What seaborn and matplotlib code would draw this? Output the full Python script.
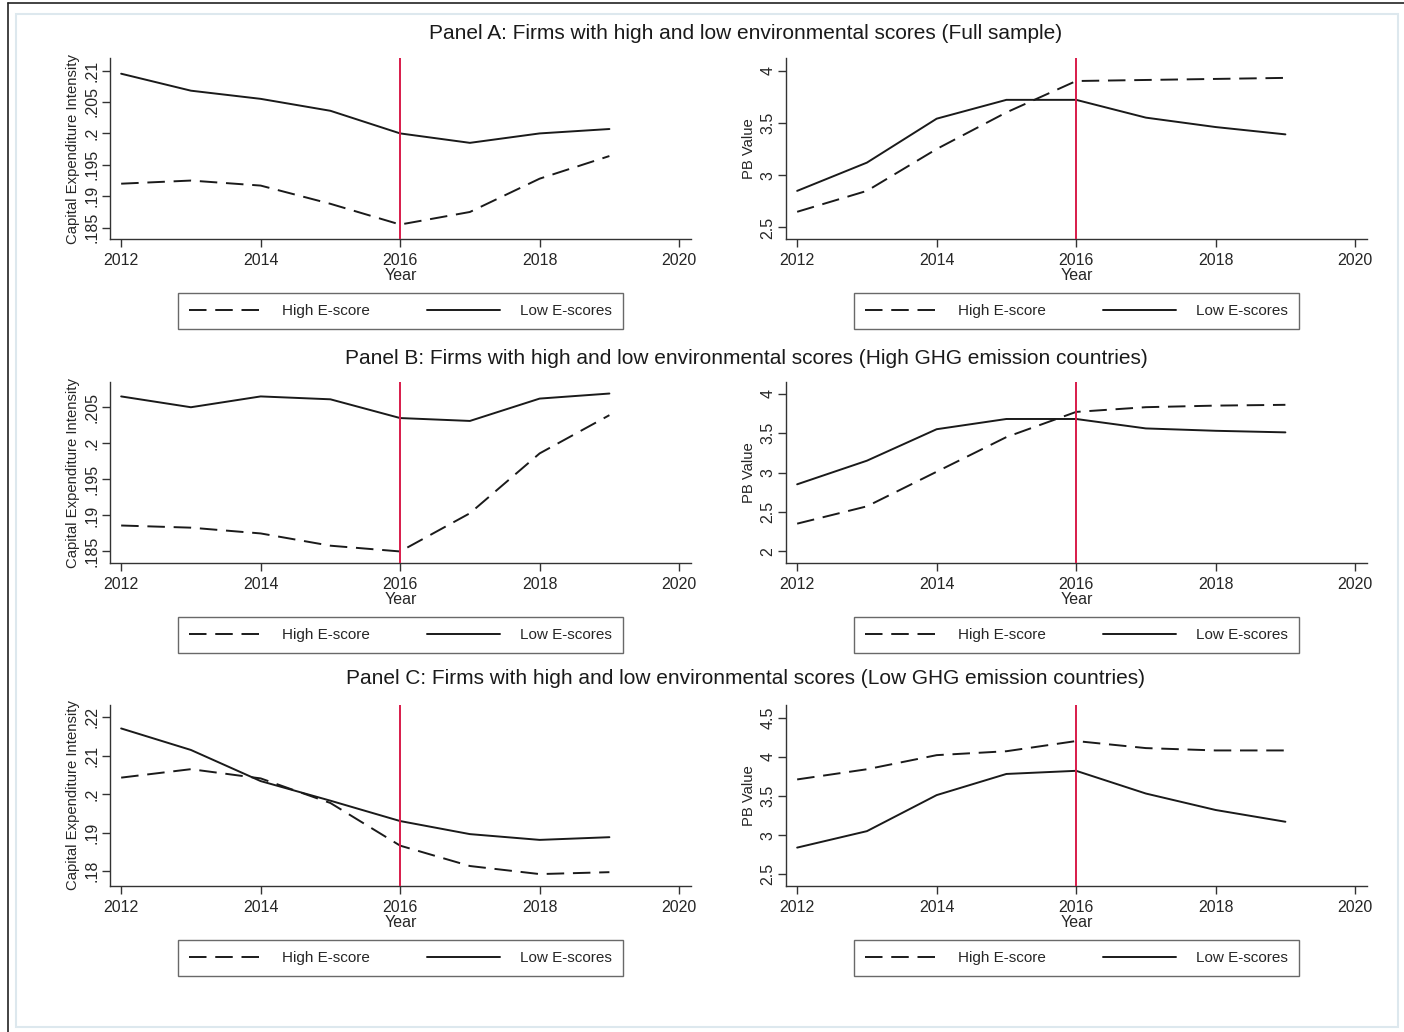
import numpy as np
import pandas as pd
import matplotlib
matplotlib.use('Agg')
import matplotlib.pyplot as plt
from matplotlib.ticker import FuncFormatter
from matplotlib.lines import Line2D
from matplotlib.patches import Rectangle
import seaborn as sns

# data
years = [2012, 2013, 2014, 2015, 2016, 2017, 2018, 2019]
groups = ['High E-score', 'Low E-scores']

capex_high_a = [0.1920, 0.1925, 0.1917, 0.1888, 0.1855, 0.1875, 0.1928, 0.1964]
capex_low_a = [0.2095, 0.2068, 0.2055, 0.2036, 0.2000, 0.1985, 0.2000, 0.2007]
pb_high_a = [2.65, 2.85, 3.25, 3.60, 3.90, 3.91, 3.92, 3.93]
pb_low_a = [2.85, 3.12, 3.54, 3.72, 3.72, 3.55, 3.46, 3.39]

capex_high_b = [0.1886, 0.1883, 0.1875, 0.1858, 0.1850, 0.1903, 0.1986, 0.2039]
capex_low_b = [0.2065, 0.2050, 0.2065, 0.2061, 0.2035, 0.2031, 0.2062, 0.2069]
pb_high_b = [2.35, 2.57, 3.01, 3.45, 3.77, 3.83, 3.85, 3.86]
pb_low_b = [2.85, 3.15, 3.55, 3.68, 3.68, 3.56, 3.53, 3.51]

capex_high_c = [0.2043, 0.2065, 0.2041, 0.1977, 0.1866, 0.1813, 0.1792, 0.1797]
capex_low_c = [0.2171, 0.2115, 0.2034, 0.1983, 0.1930, 0.1896, 0.1881, 0.1888]
pb_high_c = [3.71, 3.84, 4.02, 4.07, 4.20, 4.11, 4.08, 4.08]
pb_low_c = [2.84, 3.05, 3.51, 3.78, 3.82, 3.53, 3.32, 3.17]

titles = [
    'Panel A: Firms with high and low environmental scores (Full sample)',
    'Panel B: Firms with high and low environmental scores (High GHG emission countries)',
    'Panel C: Firms with high and low environmental scores (Low GHG emission countries)',
]

sns.set_style('white')
plt.rcParams['font.family'] = ['Liberation Sans', 'DejaVu Sans']


def make_df(high, low):
    return pd.DataFrame({
        'Year': years * 2,
        'value': high + low,
        'group': [groups[0]] * len(years) + [groups[1]] * len(years),
    })


def stata_fmt(v, pos):
    s = f'{round(v, 4):g}'
    if s.startswith('0.'):
        s = s[1:]
    return s


def draw_panel(ax, high, low, ylabel, ylim, yticks):
    df = make_df(high, low)
    sns.lineplot(data=df, x='Year', y='value', style='group', style_order=groups,
                 dashes={groups[0]: (9, 4.5), groups[1]: ''}, color='#1a1a1a',
                 linewidth=1.4, ax=ax)
    ax.axvline(2016, color='#d81b4a', lw=1.4, zorder=3)
    ax.set_xlim(2011.84, 2020.17)
    ax.set_ylim(*ylim)
    ax.set_xticks([2012, 2014, 2016, 2018, 2020])
    ax.set_yticks(yticks)
    ax.yaxis.set_major_formatter(FuncFormatter(stata_fmt))
    ax.set_xlabel('Year', fontsize=11.5, labelpad=0)
    ax.set_ylabel(ylabel, fontsize=10.7, labelpad=3)
    ax.tick_params(axis='both', direction='out', length=5.5, width=1, color='#333333',
                   labelsize=11.5, pad=4.5, left=True, bottom=True)
    ax.tick_params(axis='y', labelrotation=90, labelsize=11.5, pad=2)
    for lab in ax.get_yticklabels():
        lab.set_va('center')
    for side in ['top', 'right']:
        ax.spines[side].set_visible(False)
    for side in ['left', 'bottom']:
        ax.spines[side].set_color('#333333')
        ax.spines[side].set_linewidth(1)
    sns.move_legend(ax, 'upper center', bbox_to_anchor=(0.5, -0.257), ncol=2, title=None,
                    frameon=True, fancybox=False, fontsize=11, handlelength=4.8,
                    handletextpad=1.3, columnspacing=3.7, borderpad=0.7,
                    edgecolor='#444444')
    ax.get_legend().get_frame().set_linewidth(1.0)


fig = plt.figure(figsize=(14.04, 10.32), dpi=100)

left_x = 110 / 1404
right_x = 786 / 1404
w = 581 / 1404
h = 181 / 1032
bottoms = [1 - 239 / 1032, 1 - 563 / 1032, 1 - 886 / 1032]

panels = [
    (capex_high_a, capex_low_a, (0.1832, 0.2120), np.arange(0.185, 0.2101, 0.005),
     pb_high_a, pb_low_a, (2.39, 4.12), np.arange(2.5, 4.01, 0.5)),
    (capex_high_b, capex_low_b, (0.1834, 0.2085), np.arange(0.185, 0.2051, 0.005),
     pb_high_b, pb_low_b, (1.85, 4.15), np.arange(2.0, 4.01, 0.5)),
    (capex_high_c, capex_low_c, (0.1761, 0.2232), np.arange(0.18, 0.2201, 0.01),
     pb_high_c, pb_low_c, (2.35, 4.66), np.arange(2.5, 4.51, 0.5)),
]

title_y = [1 - 33 / 1032, 1 - 358 / 1032, 1 - 678 / 1032]

for i, (ch, cl, cylim, cticks, ph, pl, pylim, pticks) in enumerate(panels):
    ax1 = fig.add_axes([left_x, bottoms[i], w, h])
    draw_panel(ax1, ch, cl, 'Capital Expenditure Intensity', cylim, cticks)
    ax2 = fig.add_axes([right_x, bottoms[i], w, h])
    draw_panel(ax2, ph, pl, 'PB Value', pylim, pticks)
    fig.text(746 / 1404, title_y[i], titles[i], ha='center', va='center', fontsize=15,
             color='#1a1a1a')

# outer frame of the screenshot
fig.add_artist(Line2D([8 / 1404, 1], [1 - 3 / 1032, 1 - 3 / 1032], color='#222222', lw=1.2))
fig.add_artist(Line2D([8 / 1404, 8 / 1404], [0, 1 - 3 / 1032], color='#222222', lw=1.2))
fig.add_artist(Rectangle((16 / 1404, 5 / 1032), (1398 - 16) / 1404, (1027 - 14) / 1032,
                         fill=False, edgecolor='#dde8ee', lw=1.5))

fig.savefig('out.png', dpi=100)
